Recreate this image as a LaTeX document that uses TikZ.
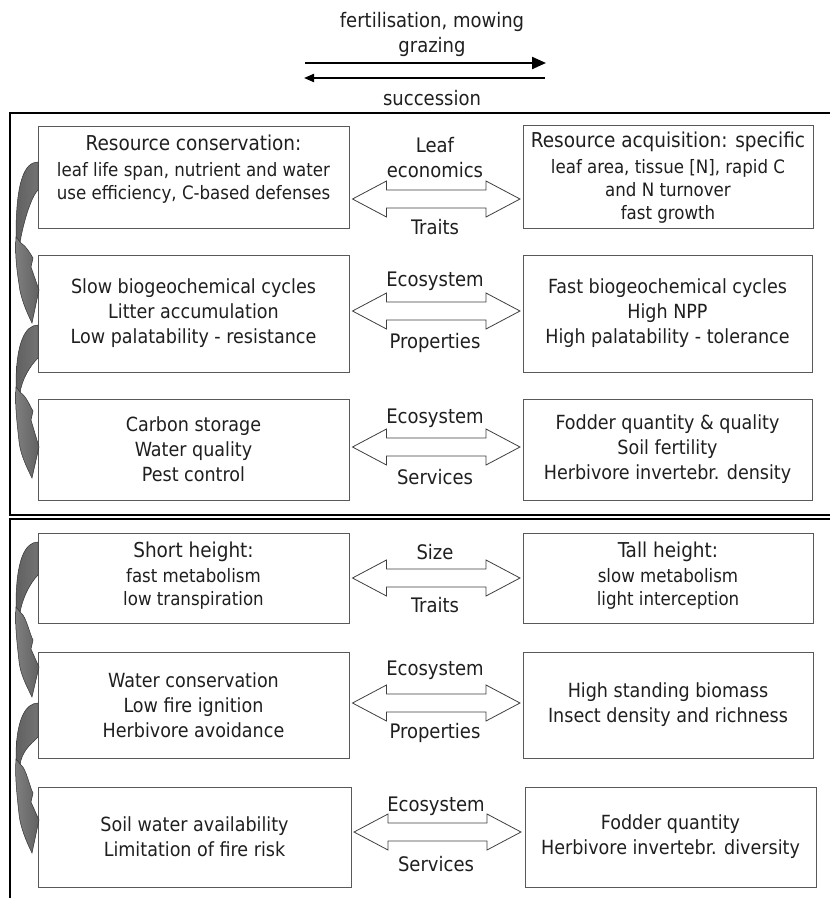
\documentclass[tikz,border=0pt]{standalone}
\usepackage{fontspec}
\setmainfont{DejaVu Sans Condensed}
\usetikzlibrary{arrows.meta,calc}
\newcommand\mainsz{\fontsize{19.5}{25}\selectfont}
\newcommand\hdsz{\fontsize{20.5}{25}\selectfont}
\newcommand\smsz{\fontsize{18.5}{23}\selectfont}
\newcommand\labsz{\fontsize{20}{25}\selectfont}
\newcommand\dblarr[2]{%
  \draw[dbl] (#1) -- ++(34,-18) -- ++(0,9) -- ($(#2)+(-34,-9)$) -- ++(0,-9) -- (#2)
    -- ++(-34,18) -- ++(0,-9) -- ($(#1)+(34,9)$) -- ++(0,9) -- cycle;}
\newcommand\curv[6]{%
  \shadedraw[cshade] (38,#1) .. controls (25,#1) and (16,#1+18) .. (16,#3-8)
     .. controls (16,#3-3) and (18,#3) .. (20,#3)
     .. controls (22,#3-14) and (30,#2+8) .. (38,#2) -- cycle;
  \shadedraw[cshadeb] (16,#3-6) -- (21,#3) .. controls (26,#3+3) and (30,#4-5) .. (33,#4)
     -- (31,#4+9) -- (39,#5) -- (32,#6)
     .. controls (26,#6-12) and (20,#5+6) .. (19,#5-6)
     .. controls (16,#3+22) and (15,#3+8) .. (16,#3-6) -- cycle;}
\begin{document}
\begin{tikzpicture}[x=1pt,y=-1pt,
  box/.style={draw=black!65,line width=0.9pt,inner sep=0pt},
  txt/.style={align=center,text=black!88,inner sep=0pt,font=\mainsz},
  lab/.style={align=center,text=black!88,inner sep=0pt,font=\labsz},
  dbl/.style={draw=black!75,line width=0.8pt,fill=white,line join=miter},
  frame/.style={draw=black,line width=1.6pt},
  cshade/.style={draw=black!80,line width=0.5pt,left color=black!62,middle color=black!12,right color=black!55},
  cshadeb/.style={draw=black!80,line width=0.5pt,left color=black!50,middle color=white,right color=black!62}]
\useasboundingbox (0,0) rectangle (830,898);
\clip (0,0) rectangle (830,898);
\fill[white] (0,0) rectangle (830,898);

% top labels and arrows
\node[lab] (top) at (432,34.5) {fertilisation, mowing\\grazing};
\node[lab] (succ) at (432,98) {succession};
\coordinate (ra) at (305,63);
\coordinate (rb) at (546,63);
\coordinate (la) at (545,78);
\coordinate (lb) at (304,78);
\draw[line width=2.2pt,-{Triangle[length=14pt,width=12pt]}] (ra) -- (rb);
\draw[line width=2pt,-{Triangle[length=10pt,width=8pt]}] (la) -- (lb);

% frames
\draw[frame] (10,113) rectangle (850,515);
\draw[frame] (10,519) rectangle (850,920);

% boxes
\node[box,minimum width=311pt,minimum height=102pt] (b1l) at (193.5,177) {};
\node[box,minimum width=290pt,minimum height=103pt] (b1r) at (668,176.5) {};
\node[box,minimum width=311pt,minimum height=117pt] (b2l) at (193.5,313.5) {};
\node[box,minimum width=289pt,minimum height=117pt] (b2r) at (667.5,313.5) {};
\node[box,minimum width=311pt,minimum height=101pt] (b3l) at (193.5,449.5) {};
\node[box,minimum width=289pt,minimum height=101pt] (b3r) at (667.5,449.5) {};
\node[box,minimum width=311pt,minimum height=90pt] (b4l) at (193.5,578) {};
\node[box,minimum width=290pt,minimum height=90pt] (b4r) at (668,578) {};
\node[box,minimum width=311pt,minimum height=106pt] (b5l) at (193.5,705) {};
\node[box,minimum width=290pt,minimum height=106pt] (b5r) at (668,705) {};
\node[box,minimum width=313pt,minimum height=100pt] (b6l) at (194.5,837) {};
\node[box,minimum width=291pt,minimum height=100pt] (b6r) at (670.5,837) {};

% box texts
\node[txt,font=\smsz] (t1l) at (193.5,169.5) {{\hdsz Resource conservation:}\\[3pt]leaf life span, nutrient and water\\use efficiency, C-based defenses};
\node[txt,font=\smsz] (t1r) at (668,178) {{\hdsz Resource acquisition: specific}\\[3pt]leaf area, tissue [N], rapid C\\and N turnover\\fast growth};
\node[txt] (t2l) at (193.5,313) {Slow biogeochemical cycles\\Litter accumulation\\Low palatability - resistance};
\node[txt] (t2r) at (667.5,313) {Fast biogeochemical cycles\\High NPP\\High palatability - tolerance};
\node[txt] (t3l) at (193.5,449) {Carbon storage\\Water quality\\Pest control};
\node[txt] (t3r) at (667.5,449) {Fodder quantity \& quality\\Soil fertility\\Herbivore invertebr. density};
\node[txt,font=\smsz] (t4l) at (193.5,576) {{\hdsz Short height:}\\[2pt]fast metabolism\\low transpiration};
\node[txt,font=\smsz] (t4r) at (668,576) {{\hdsz Tall height:}\\[2pt]slow metabolism\\light interception};
\node[txt] (t5l) at (193.5,705) {Water conservation\\Low fire ignition\\Herbivore avoidance};
\node[txt] (t5r) at (668,704.5) {High standing biomass\\Insect density and richness};
\node[txt] (t6l) at (194.5,836.5) {Soil water availability\\Limitation of fire risk};
\node[txt] (t6r) at (670.5,836.5) {Fodder quantity\\Herbivore invertebr. diversity};

% double arrows
\coordinate (d1l) at (352.5,199); \coordinate (d1r) at (520,199);
\coordinate (d2l) at (352.5,311); \coordinate (d2r) at (520,311);
\coordinate (d3l) at (352.5,447); \coordinate (d3r) at (520,447);
\coordinate (d4l) at (352.5,578); \coordinate (d4r) at (520,578);
\coordinate (d5l) at (352.5,703); \coordinate (d5r) at (520,703);
\coordinate (d6l) at (354,832); \coordinate (d6r) at (521,832);
\dblarr{d1l}{d1r}
\dblarr{d2l}{d2r}
\dblarr{d3l}{d3r}
\dblarr{d4l}{d4r}
\dblarr{d5l}{d5r}
\dblarr{d6l}{d6r}

% middle labels
\node[lab] (m1a) at (435,157.5) {Leaf\\economics};
\node[lab] (m1b) at (435,227) {Traits};
\node[lab] (m2a) at (435,281) {Ecosystem};
\node[lab] (m2b) at (435,343) {Properties};
\node[lab] (m3a) at (435,418) {Ecosystem};
\node[lab] (m3b) at (435,477) {Services};
\node[lab] (m4a) at (435,552) {Size};
\node[lab] (m4b) at (435,605) {Traits};
\node[lab] (m5a) at (435,670) {Ecosystem};
\node[lab] (m5b) at (435,733) {Properties};
\node[lab] (m6a) at (436,806) {Ecosystem};
\node[lab] (m6b) at (436,864) {Services};

% curved arrows on the left
\curv{162}{190}{243}{258}{290}{323}
\curv{325}{358}{393}{411}{447}{478}
\curv{542}{575}{613}{640}{667}{697}
\curv{703}{737}{765}{793}{820}{853}
\end{tikzpicture}
\end{document}
